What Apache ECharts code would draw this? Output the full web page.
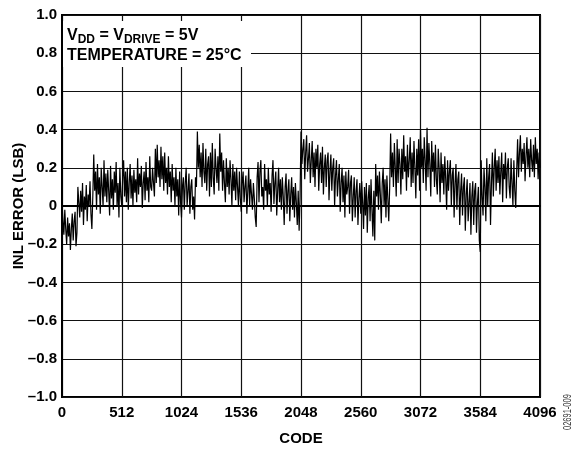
<!DOCTYPE html>
<html>
<head>
<meta charset="utf-8">
<script src="https://cdn.jsdelivr.net/npm/echarts@6/dist/echarts.min.js"></script>
<style>
html,body{margin:0;padding:0;background:#fff;}
#chart{width:574px;height:449px;}
</style>
</head>
<body>
<div id="chart"></div>
<script>
// Code step between samples
const codeStep = 8;
// INL error (LSB), one value per 8 codes, rows of 256 codes
const inlRow0  = [0.03,-0.08,-0.15,-0.02,-0.12,-0.20,-0.06,-0.16,-0.09,-0.23,-0.12,-0.04,-0.18,-0.08,-0.03,-0.21,-0.14,0.10,0.02,-0.06,0.08,-0.03,0.12,-0.10,0.05,-0.02,0.11,-0.08,0.06,0.00,0.13,-0.04];
const inlRow1  = [-0.12,0.05,0.27,0.08,0.18,-0.02,0.22,0.06,0.15,-0.04,0.20,0.10,0.00,0.24,0.05,0.17,0.02,0.19,0.08,-0.05,0.21,0.04,0.14,-0.02,0.18,0.07,0.23,0.00,0.12,-0.06,0.20,0.05];
const inlRow2  = [0.00,0.15,0.24,0.05,0.18,0.02,0.20,-0.02,0.12,0.22,0.04,0.16,0.00,0.19,0.07,0.14,0.02,0.25,0.06,0.17,0.10,0.21,-0.01,0.12,0.18,0.03,0.23,0.08,0.15,0.02,0.26,0.10];
const inlRow3  = [0.08,0.20,0.12,0.05,0.30,0.12,0.32,0.15,0.24,0.10,0.31,0.14,0.26,0.08,0.28,0.12,0.20,0.06,0.26,0.10,0.18,0.02,0.22,0.08,0.15,0.00,0.20,0.05,0.14,-0.05,0.18,0.02];
const inlRow4  = [-0.06,0.10,0.15,-0.02,0.12,0.20,0.00,0.08,0.17,-0.04,0.10,0.14,-0.02,0.05,-0.07,0.15,0.10,0.39,0.20,0.32,0.15,0.28,0.10,0.33,0.18,0.12,0.30,0.08,0.22,0.26,0.05,0.28];
const inlRow5  = [0.10,0.33,0.15,0.06,0.30,0.20,0.12,0.26,0.08,0.38,0.18,0.28,0.08,0.24,0.12,0.02,0.25,0.10,0.20,0.06,0.24,0.14,0.00,0.22,0.08,0.18,0.03,0.20,0.10,0.00,0.18,0.04];
const inlRow6  = [-0.03,0.12,0.18,0.02,0.10,0.16,-0.04,0.08,0.20,0.00,0.14,0.06,-0.02,0.12,0.04,-0.06,-0.11,0.15,0.23,0.02,0.18,0.24,0.05,0.10,-0.02,0.22,0.08,0.14,0.00,0.20,0.06,0.12];
const inlRow7  = [-0.03,0.16,0.24,0.01,0.12,0.18,-0.05,0.08,0.20,0.02,0.14,-0.02,0.15,0.05,-0.10,0.10,0.17,-0.04,0.08,0.14,-0.08,0.06,0.15,-0.02,0.10,-0.06,0.12,0.02,-0.10,0.08,-0.13,0.05];
const inlRow8  = [0.39,0.22,0.30,0.35,0.14,0.28,0.37,0.18,0.25,0.33,0.12,0.24,0.34,0.15,0.28,0.10,0.30,0.20,0.32,0.08,0.22,0.28,0.12,0.31,0.06,0.20,0.27,0.10,0.24,0.28,0.03,0.18];
const inlRow9  = [0.27,0.08,0.20,0.25,0.00,0.16,0.24,0.05,0.14,0.22,-0.03,0.12,0.20,0.02,0.16,-0.06,0.18,0.06,0.10,0.19,-0.04,0.12,0.16,-0.08,0.05,0.15,-0.06,0.08,0.14,-0.10,0.04,0.12];
const inlRow10 = [-0.04,0.13,0.02,-0.12,0.10,-0.05,0.12,-0.14,0.04,0.11,-0.08,0.14,-0.02,-0.16,0.08,-0.18,0.22,0.05,0.16,-0.02,0.18,0.06,-0.09,0.12,0.20,0.00,0.14,-0.06,0.16,0.04,-0.08,0.10];
const inlRow11 = [0.38,0.15,0.28,0.10,0.33,0.20,0.05,0.35,0.12,0.30,0.22,0.06,0.30,0.14,0.37,0.18,0.26,0.08,0.32,0.15,0.24,0.36,0.10,0.28,0.12,0.34,0.20,0.04,0.30,0.16,0.35,0.08];
const inlRow12 = [0.40,0.20,0.30,0.12,0.36,0.24,0.08,0.41,0.15,0.33,0.22,0.05,0.34,0.18,0.28,0.10,0.32,0.14,0.06,0.30,0.20,0.02,0.28,0.12,0.22,0.06,0.26,0.14,-0.02,0.24,0.08,0.18];
const inlRow13 = [0.24,0.00,0.16,0.20,-0.06,0.12,0.22,-0.02,0.14,0.18,-0.10,0.08,0.17,-0.05,0.10,0.15,-0.13,0.06,0.14,-0.08,0.02,0.12,-0.15,0.05,0.13,-0.10,0.08,0.12,-0.14,0.02,0.10,-0.18];
const inlRow14 = [-0.24,0.24,0.05,-0.05,0.20,0.10,-0.08,0.25,0.00,0.15,0.22,-0.10,0.12,0.28,0.05,0.20,0.30,0.08,0.24,0.12,0.26,0.06,0.18,0.28,0.02,0.22,0.14,0.28,0.04,0.20,0.25,0.10];
const inlRow15 = [0.04,0.25,0.12,0.00,0.24,0.08,-0.01,0.18,0.35,0.15,0.28,0.37,0.18,0.30,0.22,0.33,0.13,0.26,0.36,0.20,0.30,0.15,0.35,0.24,0.18,0.32,0.15,0.36,0.22,0.30,0.14,0.28];
const inlLast  = [0.20];

const yTicks = [-1.0,-0.8,-0.6,-0.4,-0.2,0,0.2,0.4,0.6,0.8,1.0];
const xTicks = [0,512,1024,1536,2048,2560,3072,3584,4096];

const inlValues = [].concat(inlRow0,inlRow1,inlRow2,inlRow3,inlRow4,inlRow5,inlRow6,inlRow7,
  inlRow8,inlRow9,inlRow10,inlRow11,inlRow12,inlRow13,inlRow14,inlRow15,inlLast);
const seriesData = inlValues.map((v,i)=>[i*codeStep, v]);

const FONT = '"Liberation Sans", Arial, Helvetica, sans-serif';
const chart = echarts.init(document.getElementById('chart'), null, {renderer:'canvas'});
chart.setOption({
  animation:false,
  backgroundColor:'#fff',
  grid:{left:62, right:34, top:15, bottom:52, show:true, borderColor:'#000', borderWidth:2,
    backgroundColor:'transparent', containLabel:false, outerBoundsMode:'none'},
  xAxis:{
    type:'value', min:xTicks[0], max:xTicks[xTicks.length-1], interval:512,
    name:'CODE', nameLocation:'middle', nameGap:34,
    nameTextStyle:{fontFamily:FONT, fontWeight:'bold', fontSize:15, color:'#000'},
    axisLine:{show:true, lineStyle:{color:'#000', width:2}},
    axisTick:{show:false},
    axisLabel:{fontFamily:FONT, fontWeight:'bold', fontSize:15, color:'#000', margin:8,
      formatter:v=>String(v)},
    splitLine:{show:true, lineStyle:{color:'#111', width:1.2}}
  },
  yAxis:{
    type:'value', min:yTicks[0], max:yTicks[yTicks.length-1], interval:0.2,
    name:'INL ERROR (LSB)', nameLocation:'middle', nameGap:36, nameRotate:90, nameMoveOverlap:false,
    nameTextStyle:{fontFamily:FONT, fontWeight:'bold', fontSize:15, color:'#000'},
    axisLine:{show:true, lineStyle:{color:'#000', width:2}},
    axisTick:{show:false},
    axisLabel:{fontFamily:FONT, fontWeight:'bold', fontSize:15, color:'#000', margin:5,
      formatter:v=> Math.abs(v)<1e-9 ? '0' : (v<0 ? '\u2013'+Math.abs(v).toFixed(1) : v.toFixed(1))},
    splitLine:{show:true, lineStyle:{color:'#111', width:1.2}}
  },
  series:[{
    type:'line', data:seriesData, showSymbol:false, symbol:'none',
    lineStyle:{color:'#000', width:1.2}, z:3
  }],
  graphic:[
    {type:'rect', shape:{x:63, y:21, width:188, height:46}, style:{fill:'#fff'}, z:50},
    {type:'text', left:67, top:28, z:51, style:{
      text:'{n|V}{s|DD}{n| = V}{s|DRIVE}{n| = 5V}',
      rich:{
        n:{fontFamily:FONT, fontWeight:'bold', fontSize:16, fill:'#000', lineHeight:18, verticalAlign:'top'},
        s:{fontFamily:FONT, fontWeight:'bold', fontSize:12, fill:'#000', lineHeight:18, padding:[6,0,0,0], verticalAlign:'top'}
      }}},
    {type:'text', left:67, top:48, z:51, style:{
      text:'TEMPERATURE = 25°C', fontFamily:FONT, fontWeight:'bold', fontSize:16, fill:'#000'}},
    {type:'text', z:51, x:568, y:430, rotation:Math.PI/2, scaleX:0.75, style:{
      text:'02691-009', fontFamily:FONT, fontSize:10, fill:'#333', verticalAlign:'middle', align:'left'}}
  ]
});
</script>
</body>
</html>
